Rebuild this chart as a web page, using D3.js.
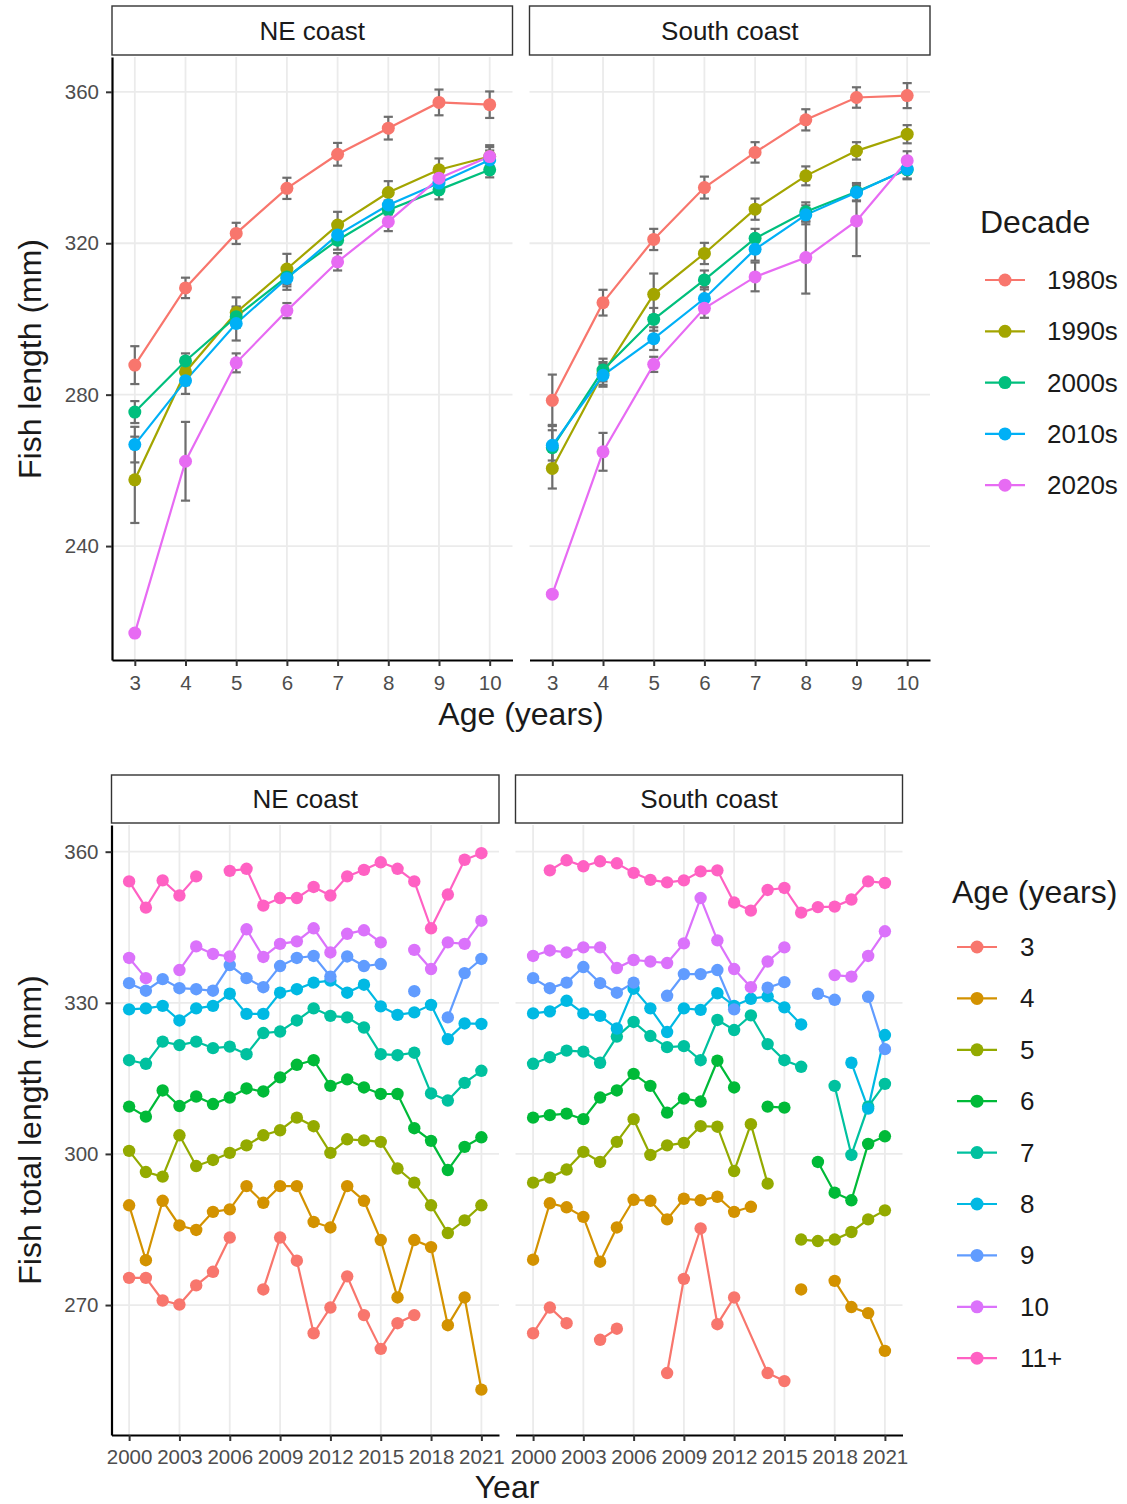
<!DOCTYPE html>
<html>
<head>
<meta charset="utf-8">
<script src="https://cdn.jsdelivr.net/npm/d3@7"></script>
<style>
  body { margin: 0; background: #fff; }
</style>
</head>
<body>
<svg id="chart" width="1127" height="1504"></svg>
<script>
// ---- data: top panels (mean length at age by decade, +/- error) ----
const ages = [3, 4, 5, 6, 7, 8, 9, 10];
const decades = ["1980s", "1990s", "2000s", "2010s", "2020s"];
const decadeColors = ["#F8766D", "#A3A500", "#00BF7D", "#00B0F6", "#E76BF3"];

const neMeans = [
  [287.8, 308.2, 322.6, 334.5, 343.5, 350.4, 357.2, 356.6],
  [257.5, 286.0, 301.7, 313.2, 324.8, 333.4, 339.4, 342.9],
  [275.4, 288.9, 300.6, 311.1, 320.8, 328.8, 334.1, 339.4],
  [266.8, 283.7, 298.8, 310.7, 322.2, 330.1, 335.9, 342.0],
  [217.0, 262.4, 288.4, 302.2, 315.1, 325.7, 337.2, 342.9]
];
const neErr = [
  [5.0, 2.7, 2.8, 2.8, 3.0, 3.0, 3.4, 3.5],
  [11.4, 3.5, 4.0, 4.0, 3.5, 3.0, 3.0, 3.0],
  [2.9, 2.0, 2.5, 2.5, 2.5, 2.5, 2.5, 2.0],
  [4.7, 3.5, 4.5, 3.0, 2.5, 2.5, 2.5, 2.5],
  [null, 10.4, 2.5, 2.0, 2.3, 2.5, 2.5, 2.5]
];
const southMeans = [
  [278.5, 304.3, 321.0, 334.7, 344.0, 352.6, 358.5, 359.0],
  [260.5, 285.6, 306.5, 317.3, 329.0, 337.8, 344.4, 348.8],
  [266.0, 286.5, 299.9, 310.3, 321.3, 328.3, 333.6, 339.4],
  [266.6, 285.1, 294.8, 305.4, 318.4, 327.5, 333.4, 339.6],
  [227.3, 264.9, 288.0, 302.8, 311.1, 316.2, 325.9, 341.8]
];
const southErr = [
  [6.8, 3.4, 2.8, 2.9, 2.7, 2.8, 2.7, 3.3],
  [5.3, 3.0, 5.5, 2.8, 2.8, 2.5, 2.3, 2.4],
  [6.0, 3.0, 3.0, 2.5, 2.5, 2.5, 2.3, 2.5],
  [4.0, 3.0, 3.0, 3.0, 3.0, 2.5, 2.3, 2.5],
  [null, 5.0, 2.0, 2.5, 3.8, 9.5, 9.3, 2.5]
];

// ---- data: bottom panels (yearly mean length by age class) ----
// null = NA (line breaks), NaN = year missing from the data (line runs across)
const years = d3.range(2000, 2022);
const ageClasses = ["3", "4", "5", "6", "7", "8", "9", "10", "11+"];
const ageColors = ["#F8766D", "#D39200", "#93AA00", "#00BA38", "#00C19F",
                   "#00B9E3", "#619CFF", "#DB72FB", "#FF61C3"];

const neByAge = [
  [275.4, 275.4, 270.9, 270.1, 273.9, 276.6, 283.4, null, 273.1, 283.4, 278.8, 264.4, 269.5, 275.7, 268.0, 261.3, 266.4, 268.0, null, null, null, null],
  [289.8, 278.9, 290.7, 285.8, 284.9, 288.5, 289.0, 293.6, 290.3, 293.6, 293.6, 286.5, 285.4, 293.6, 290.7, 282.9, 271.5, 282.9, 281.5, 266.0, 271.5, 253.2],
  [300.6, 296.4, 295.5, 303.7, 297.6, 298.8, 300.2, 301.7, 303.7, 304.7, 307.2, 305.5, 300.2, 302.9, 302.7, 302.4, 297.1, 294.3, 289.8, 284.3, 286.8, 289.8],
  [309.4, 307.4, 312.6, 309.5, 311.4, 309.9, 311.2, 313.0, 312.4, 315.2, 317.7, 318.6, 313.5, 314.8, 313.2, 311.9, 311.9, 305.1, 302.6, 296.8, 301.4, 303.3],
  [318.6, 317.9, 322.3, 321.6, 322.3, 321.0, 321.3, 319.8, 324.0, 324.3, 326.5, 328.9, 327.4, 327.1, 325.1, 319.8, 319.6, 320.1, 312.0, 310.6, 314.1, 316.5],
  [328.7, 328.9, 329.4, 326.5, 328.9, 329.4, 331.8, 327.8, 327.8, 332.0, 332.7, 334.0, 334.4, 332.0, 333.6, 329.3, 327.6, 328.1, 329.6, 322.8, 325.9, 325.8],
  [333.9, 332.4, 334.7, 332.9, 332.7, 332.4, 337.5, 334.9, 333.1, 337.3, 338.9, 339.3, 335.2, 339.2, 337.3, 337.7, null, 332.3, null, 327.1, 335.9, 338.7],
  [338.9, 334.9, null, 336.5, 341.2, 339.7, 339.2, 344.6, 339.1, 341.7, 342.2, 344.8, 340.0, 343.7, 344.4, 342.0, null, 340.5, 336.7, 342.0, 341.7, 346.3],
  [354.1, 348.9, 354.3, 351.3, 355.1, null, 356.2, 356.6, 349.3, 350.8, 350.8, 353.0, 351.3, 355.1, 356.4, 357.9, 356.6, 354.1, 344.8, 351.5, 358.4, 359.7]
];
const southByAge = [
  [264.4, 269.5, 266.4, null, 263.1, 265.3, null, null, 256.5, 275.2, 285.2, 266.2, 271.5, NaN, 256.5, 254.9, null, null, null, null, null, null],
  [279.0, 290.2, 289.4, 287.5, 278.6, 285.4, 290.9, 290.7, 287.0, 291.1, 290.8, 291.5, 288.5, 289.5, null, null, 273.1, null, 274.8, 269.6, 268.4, 260.9],
  [294.3, 295.3, 296.9, 300.4, 298.4, 302.4, 306.9, 299.8, 301.7, 302.2, 305.5, 305.4, 296.6, 305.9, 294.1, null, 283.0, 282.7, 283.0, 284.5, 287.0, 288.8],
  [307.2, 307.7, 308.0, 306.9, 311.2, 312.6, 315.9, 313.5, 308.2, 311.0, 310.4, 318.5, 313.2, null, 309.4, 309.2, null, 298.4, 292.3, 290.8, 302.0, 303.5],
  [317.9, 319.2, 320.5, 320.3, 318.1, 323.3, 326.2, 323.4, 321.2, 321.4, 318.6, 326.6, 324.6, 327.5, 321.8, 318.6, 317.3, null, 313.5, 299.8, 309.4, 313.9],
  [327.9, 328.3, 330.4, 327.9, 327.4, 324.9, 332.8, 328.9, 324.2, 328.9, 328.6, 331.9, 329.4, 330.8, 331.3, 329.1, 325.7, null, null, 318.1, 309.0, 323.6],
  [334.9, 332.9, 334.0, 337.1, 333.9, 332.0, 334.0, null, 331.4, 335.7, 335.7, 336.5, 328.7, null, 333.0, 334.1, null, 331.8, 330.6, null, 331.2, 320.8],
  [339.3, 340.4, 340.0, 341.0, 341.0, 336.9, 338.5, 338.2, 337.9, 341.8, 350.8, 342.4, 336.7, 333.1, 338.2, 341.0, null, null, 335.5, 335.2, 339.3, 344.2],
  [null, 356.3, 358.3, 357.1, 358.1, 357.7, 355.8, 354.4, 353.9, 354.3, 356.1, 356.3, 349.9, 348.3, 352.4, 352.8, 347.9, 349.0, 349.1, 350.5, 354.1, 353.8]
];

const yTopTicks = [240, 280, 320, 360];
const yBottomTicks = [270, 300, 330, 360];
const yearTicks = [2000, 2003, 2006, 2009, 2012, 2015, 2018, 2021];

// ---- look ----
const FONT = "'Liberation Sans', Arial, Helvetica, sans-serif";
const TICK_TEXT = "#4d4d4d";
const GRID = "#ebebeb";
const ERR = "#6e6e6e";

const svg = d3.select("#chart");
svg.append("rect").attr("width", 1127).attr("height", 1504).attr("fill", "#fff");

/**
 * Draws a facet strip (boxed label above a panel).
 */
function strip(x0, x1, y0, y1, label) {
  svg.append("rect")
    .attr("x", x0).attr("y", y0)
    .attr("width", x1 - x0).attr("height", y1 - y0)
    .attr("fill", "#fff").attr("stroke", "#333").attr("stroke-width", 1.4);
  svg.append("text")
    .text(label)
    .attr("x", (x0 + x1) / 2).attr("y", (y0 + y1) / 2 + 9)
    .attr("text-anchor", "middle")
    .attr("font-family", FONT).attr("font-size", "26px").attr("fill", "#1a1a1a");
}

/**
 * Grid + axes for one panel; returns nothing, just draws.
 */
function frame(x, y, xTicks, yTicks, showY, tickFmt, pad) {
  const [x0, x1] = x.range();
  const [y1, y0] = y.range();
  const g = svg.append("g");
  g.selectAll(".gx").data(xTicks).join("line")
    .attr("x1", d => x(d)).attr("x2", d => x(d))
    .attr("y1", y0).attr("y2", y1)
    .attr("stroke", GRID).attr("stroke-width", 1.8);
  g.selectAll(".gy").data(yTicks).join("line")
    .attr("x1", x0).attr("x2", x1)
    .attr("y1", d => y(d)).attr("y2", d => y(d))
    .attr("stroke", GRID).attr("stroke-width", 1.8);

  const ax = svg.append("g")
    .attr("transform", "translate(0," + y1 + ")")
    .call(d3.axisBottom(x).tickValues(xTicks).tickFormat(tickFmt)
      .tickSize(6).tickSizeOuter(0).tickPadding(pad));
  styleAxis(ax);

  if (showY) {
    const ay = svg.append("g")
      .attr("transform", "translate(" + x0 + ",0)")
      .call(d3.axisLeft(y).tickValues(yTicks).tickSize(6).tickSizeOuter(0).tickPadding(7));
    styleAxis(ay);
  }
}

function styleAxis(a) {
  a.attr("font-family", FONT).attr("font-size", "20.5px");
  a.select(".domain").attr("stroke", "#000").attr("stroke-width", 2.2);
  a.selectAll(".tick line").attr("stroke", "#333").attr("stroke-width", 2);
  a.selectAll(".tick text").attr("fill", TICK_TEXT);
}

/**
 * Top facet: error bars, lines and points per decade.
 */
function topPanel(x, y, means, errs) {
  const rows = decades.map((dec, k) =>
    ages.map((a, i) => ({ a: a, v: means[k][i], e: errs[k][i], c: decadeColors[k] })));
  const flat = rows.flat();

  const eb = svg.append("g").attr("stroke", ERR).attr("stroke-width", 2.2);
  flat.filter(d => d.e != null).forEach(d => {
    eb.append("line").attr("x1", x(d.a)).attr("x2", x(d.a))
      .attr("y1", y(d.v - d.e)).attr("y2", y(d.v + d.e));
    [d.v - d.e, d.v + d.e].forEach(t => {
      eb.append("line").attr("x1", x(d.a - 0.09)).attr("x2", x(d.a + 0.09))
        .attr("y1", y(t)).attr("y2", y(t));
    });
  });

  const line = d3.line().x(d => x(d.a)).y(d => y(d.v));
  svg.append("g").selectAll("path").data(rows).join("path")
    .attr("d", line).attr("fill", "none")
    .attr("stroke", d => d[0].c).attr("stroke-width", 2.2);
  svg.append("g").selectAll("circle").data(flat).join("circle")
    .attr("cx", d => x(d.a)).attr("cy", d => y(d.v)).attr("r", 6.5)
    .attr("fill", d => d.c);
}

/**
 * Bottom facet: yearly lines and points per age class.
 */
function bottomPanel(x, y, byAge) {
  const rows = ageClasses.map((ac, k) =>
    years.map((yr, i) => ({ t: yr, v: byAge[k][i], c: ageColors[k] }))
      .filter(d => !Number.isNaN(d.v)));
  const line = d3.line().defined(d => d.v != null).x(d => x(d.t)).y(d => y(d.v));
  svg.append("g").selectAll("path").data(rows).join("path")
    .attr("d", line).attr("fill", "none")
    .attr("stroke", d => d[0].c).attr("stroke-width", 2.2);
  svg.append("g").selectAll("circle")
    .data(rows.flat().filter(d => d.v != null)).join("circle")
    .attr("cx", d => x(d.t)).attr("cy", d => y(d.v)).attr("r", 6.2)
    .attr("fill", d => d.c);
}

function legend(x, yTitle, y0, step, title, labels, colors, lineX0, labelX) {
  svg.append("text").text(title)
    .attr("x", x).attr("y", yTitle)
    .attr("font-family", FONT).attr("font-size", "32px").attr("fill", "#1a1a1a");
  labels.forEach((lab, i) => {
    const cy = y0 + i * step;
    svg.append("line").attr("x1", lineX0).attr("x2", lineX0 + 40)
      .attr("y1", cy).attr("y2", cy)
      .attr("stroke", colors[i]).attr("stroke-width", 2.2);
    svg.append("circle").attr("cx", lineX0 + 20).attr("cy", cy).attr("r", 6.5)
      .attr("fill", colors[i]);
    svg.append("text").text(lab)
      .attr("x", labelX).attr("y", cy + 9)
      .attr("font-family", FONT).attr("font-size", "26px").attr("fill", "#1a1a1a");
  });
}

function axisTitle(text, x, y, rotate) {
  svg.append("text").text(text)
    .attr("transform", "translate(" + x + "," + y + ")" + (rotate ? " rotate(-90)" : ""))
    .attr("text-anchor", "middle")
    .attr("font-family", FONT).attr("font-size", "32px").attr("fill", "#1a1a1a");
}

// ---- top row ----
const topY = d3.scaleLinear().domain([209.9, 369.2]).range([660, 57]);
const topXLeft = d3.scaleLinear().domain([2.55, 10.45]).range([112, 512.5]);
const topXRight = d3.scaleLinear().domain([2.55, 10.45]).range([529.5, 930]);

frame(topXLeft, topY, ages, yTopTicks, true, d3.format("d"), 9);
frame(topXRight, topY, ages, yTopTicks, false, d3.format("d"), 9);
topPanel(topXLeft, topY, neMeans, neErr);
topPanel(topXRight, topY, southMeans, southErr);
strip(112, 512.5, 6, 55, "NE coast");
strip(529.5, 930, 6, 55, "South coast");
axisTitle("Age (years)", 521, 725, false);
axisTitle("Fish length (mm)", 41, 359, true);
legend(980, 233, 280, 51.3, "Decade", decades, decadeColors, 985, 1047);

// ---- bottom row ----
const botY = d3.scaleLinear().domain([244.2, 365.3]).range([1435, 825]);
const botXLeft = d3.scaleLinear().domain([1998.95, 2022.05]).range([111.5, 499]);
const botXRight = d3.scaleLinear().domain([1998.95, 2022.05]).range([515.5, 902.5]);

frame(botXLeft, botY, yearTicks, yBottomTicks, true, d3.format("d"), 8);
frame(botXRight, botY, yearTicks, yBottomTicks, false, d3.format("d"), 8);
bottomPanel(botXLeft, botY, neByAge);
bottomPanel(botXRight, botY, southByAge);
strip(111.5, 499, 775, 823, "NE coast");
strip(515.5, 902.5, 775, 823, "South coast");
axisTitle("Year", 507, 1498, false);
axisTitle("Fish total length (mm)", 41, 1130, true);
legend(952, 903, 947, 51.4, "Age (years)", ageClasses, ageColors, 957, 1020);
</script>
</body>
</html>
